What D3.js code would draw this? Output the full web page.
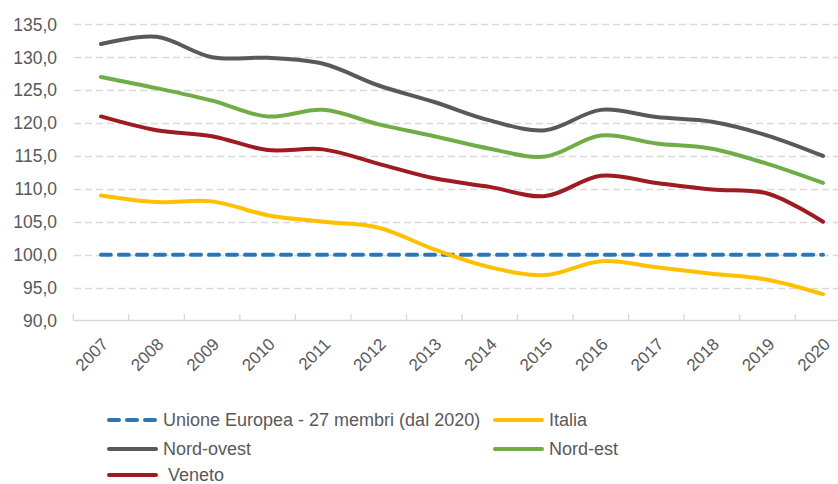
<!DOCTYPE html>
<html><head><meta charset="utf-8">
<script src="https://cdn.jsdelivr.net/npm/d3@7"></script>
<style>
html,body{margin:0;padding:0;background:#fff;}
svg{display:block;font-family:"Liberation Sans",Arial,sans-serif;}
</style></head>
<body><svg id="c" width="838" height="484"></svg>
<script>
const years = ["2007","2008","2009","2010","2011","2012","2013","2014","2015","2016","2017","2018","2019","2020"];
const yTicks = [90,95,100,105,110,115,120,125,130,135];
const ue        = [100,100,100,100,100,100,100,100,100,100,100,100,100,100];
const italia    = [109,108,108.1,106,105,104.1,100.8,98.1,96.9,99,98.1,97.1,96.2,94];
const nordOvest = [132,133.1,130,129.9,129,125.7,123.2,120.4,118.9,122,120.9,120.2,118.1,115];
const nordEst   = [127,125.3,123.4,121,122,119.8,118,116.1,114.9,118.1,116.9,116.1,113.8,110.9];
const veneto    = [121,118.9,118,115.9,116,113.8,111.6,110.3,108.9,112,110.9,109.9,109.3,105];
const seriesNames = ["Unione Europea - 27 membri (dal 2020)","Italia","Nord-ovest","Nord-est"," Veneto"];
const seriesColors = ["#2E75B6","#FFC000","#595959","#70AD47","#9E1B20"];

const series = [ue, italia, nordOvest, nordEst, veneto].map((v,i)=>({name:seriesNames[i], color:seriesColors[i], values:v, dashed:i===0}));

const svg = d3.select("#c");
const x = d3.scalePoint().domain(years).range([101, 823]);
const step = x.step();
const y = d3.scaleLinear().domain([90,135]).range([320.5, 24.3]);
const fmt = d => d3.format(".1f")(d).replace(".", ",");
const txt = "#595959";

// gridlines
svg.append("g").selectAll("line").data(yTicks.filter(t=>t>90)).join("line")
  .attr("x1", 74).attr("x2", 838)
  .attr("y1", d=>Math.round(y(d))+0.5).attr("y2", d=>Math.round(y(d))+0.5)
  .attr("stroke", "#D9D9D9").attr("stroke-width", 1.3).attr("stroke-dasharray", "7,4");

// y labels
svg.append("g").selectAll("text").data(yTicks).join("text")
  .attr("x", 57).attr("y", d=>y(d)).attr("dy", "0.36em")
  .attr("text-anchor", "end").attr("fill", txt).attr("font-size", 17.5)
  .text(fmt);

// x axis line and ticks
const x0 = x(years[0]) - step/2;
svg.append("line").attr("x1", x0).attr("x2", 838).attr("y1", 320.5).attr("y2", 320.5)
  .attr("stroke", "#D9D9D9").attr("stroke-width", 1.3);
svg.append("g").selectAll("line").data(d3.range(years.length+1)).join("line")
  .attr("x1", i=>x0 + i*step).attr("x2", i=>x0 + i*step)
  .attr("y1", 314).attr("y2", 320.5)
  .attr("stroke", "#D9D9D9").attr("stroke-width", 1.3);

// x labels
svg.append("g").selectAll("text").data(years).join("text")
  .attr("transform", d=>`translate(${x(d)+4},${341}) rotate(-45)`)
  .attr("text-anchor", "end").attr("dy", "0.35em")
  .attr("fill", txt).attr("font-size", 17).text(d=>d);

// lines
const line = d3.line().x((d,i)=>x(years[i])).y(d=>y(d)).curve(d3.curveCatmullRom.alpha(0.5));
svg.append("g").selectAll("path").data(series).join("path")
  .attr("d", s=>line(s.values))
  .attr("fill", "none").attr("stroke", s=>s.color).attr("stroke-width", 4)
  .attr("stroke-linecap", "round").attr("stroke-linejoin", "round")
  .attr("stroke-dasharray", s=>s.dashed ? "10,8" : null);

// legend
const legendPos = [[107,420],[493,420],[107,449],[493,449],[107,475]];
const lg = svg.append("g");
series.forEach((s,i)=>{
  const [lx,ly] = legendPos[i];
  lg.append("line").attr("x1", lx+2).attr("x2", lx+49).attr("y1", ly).attr("y2", ly)
    .attr("stroke", s.color).attr("stroke-width", 4).attr("stroke-linecap", "round")
    .attr("stroke-dasharray", s.dashed ? "10,8" : null);
  lg.append("text").attr("x", lx+56).attr("y", ly).attr("dy", "0.32em")
    .attr("fill", txt).attr("font-size", 18).attr("xml:space","preserve").text(s.name);
});
</script></body></html>
